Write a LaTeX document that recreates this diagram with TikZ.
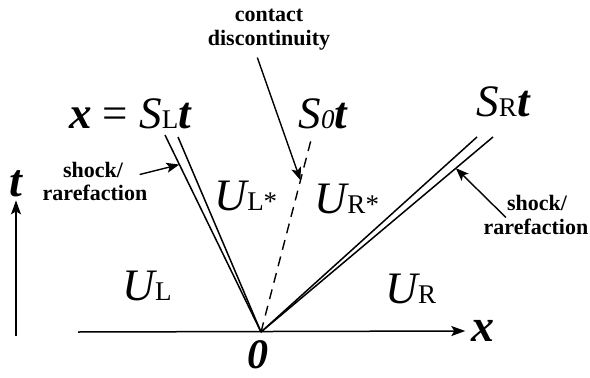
\documentclass[tikz,border=0pt]{standalone}
\usepackage{fontspec}
\setmainfont{Liberation Serif}
\usetikzlibrary{arrows.meta, positioning, calc}
\newcommand{\sbs}[1]{{\fontsize{27}{29}\selectfont\upshape #1}}
\tikzset{
  wave/.style={line width=1.5pt},
  contactln/.style={line width=1.4pt, dash pattern=on 10pt off 7pt},
  axis/.style={line width=1.5pt, -{Stealth[length=14pt,width=10pt,inset=3pt]}},
  pointer/.style={line width=1.4pt, -{Stealth[length=13pt,width=10pt,inset=3pt]}},
  note/.style={inner sep=1pt, anchor=base, align=center,
    font=\fontsize{22}{24}\selectfont\bfseries},
  region/.style={inner sep=0pt, anchor=base,
    font=\fontsize{45}{50}\selectfont\itshape},
  axlabel/.style={inner sep=0pt,
    font=\fontsize{46}{50}\selectfont\bfseries\itshape},
}

\begin{document}
\begin{tikzpicture}[x=1pt, y=-1pt]
  \useasboundingbox (0,0) rectangle (590,378);

  \coordinate (O)  at (261,332);
  \coordinate (l1) at (165,135);
  \coordinate (l2) at (178,137);
  \coordinate (c0) at (311,140);
  \coordinate (r1) at (477,137);
  \coordinate (r2) at (493,137);
  \coordinate (xs) at (78,332);
  \coordinate (ts) at (16,336);

  \coordinate (lhit) at ($(O)!0.85!(l1)$);
  \coordinate (chit) at ($(O)!0.79!(c0)$);
  \coordinate (rhit) at ($(O)!0.84!(r2)$);

  \node[axlabel] (xlab) at (483,331) {x};
  \node[axlabel] (tlab) at (16,184) {t};
  \node[axlabel, font=\fontsize{42}{46}\selectfont\bfseries\itshape,
    below=8pt of O, xshift=-3pt] (zero) {0};

  \node[region] (sl) at (130,128)
    {\textbf{x} \upshape= \itshape S\sbs{L}\textbf{t}};
  \node[region] (s0) at (323,128) {S\sbs{\itshape 0}\textbf{t}};
  \node[region] (sr) at (503,116) {S\sbs{R}\textbf{t}};

  \node[region] (ul)  at (147,300) {U\sbs{L}};
  \node[region] (uls) at (246,210) {U\sbs{L*}};
  \node[region] (urs) at (347,213) {U\sbs{R*}};
  \node[region] (ur)  at (411,303) {U\sbs{R}};

  \node[note] (cd) at (269,45) {contact\\discontinuity};
  \node[note] (ls1) at (93,177) {shock/};
  \node[note] (ls2) at (95,200) {rarefaction};
  \node[note] (rs1) at (537,210) {shock/};
  \node[note] (rs2) at (536,234) {rarefaction};

  \draw[axis] (xs) -- ([xshift=-6pt]xlab.west);
  \draw[axis] (ts) -- ([yshift=-3pt]tlab.south);

  \draw[wave] (O) -- (l1);
  \draw[wave] (O) -- (l2);
  \draw[contactln] (O) -- (c0);
  \draw[wave] (O) -- (r1);
  \draw[wave] (O) -- (r2);

  \draw[pointer, shorten <=7pt] ([xshift=-14pt]cd.south) -- (chit);
  \draw[pointer, shorten <=16pt] (ls1.south east) -- (lhit);
  \draw[pointer] ([yshift=-6pt]rs1.south west) -- (rhit);

\end{tikzpicture}
\end{document}
